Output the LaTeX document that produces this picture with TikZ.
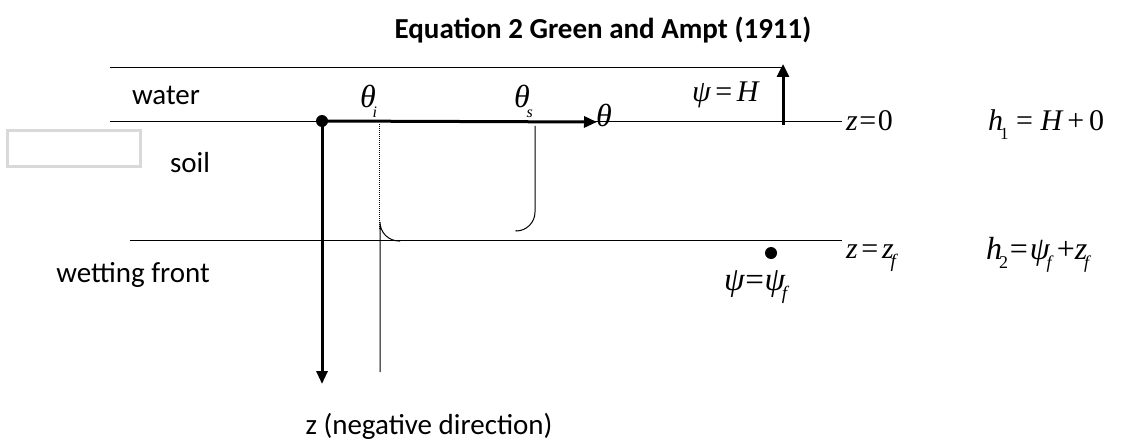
\documentclass[tikz,border=0pt]{standalone}
\usepackage{fontspec}
\setmainfont{Carlito}
\newfontfamily\tnr{Liberation Serif}
\newfontfamily\tnri{Liberation Serif Italic}
\usetikzlibrary{arrows.meta}
\newcommand\vi[1]{{\tnri #1}}
\newcommand\sbs[2]{\kern-0.1em\raisebox{-0.3em}{\fontsize{#1}{#1}\selectfont #2}}
\newcommand\eqsign{\kern0.06em=\kern0.06em}
\begin{document}
\begin{tikzpicture}[x=1pt,y=-1pt,
  thin line/.style={line width=1pt},
  thick axis/.style={line width=3pt,-{Triangle[length=13pt,width=11pt]}},
  lbl/.style={font=\fontsize{29}{32}\selectfont},
  mth/.style={font=\tnr\fontsize{32}{36}\selectfont, inner sep=0pt},
  mths/.style={font=\tnr\fontsize{30}{33}\selectfont, inner sep=0pt}]
\useasboundingbox (0,0) rectangle (1126,441);
% title
\node[font=\bfseries\fontsize{29}{32}\selectfont] (title) at (603,30) {Equation 2 Green and Ampt (1911)};
% layer lines
\coordinate (tl) at (110,68); \coordinate (tr) at (782,68);
\coordinate (wl) at (110,122); \coordinate (wr) at (842,122);
\coordinate (fl) at (130,240); \coordinate (fr) at (842,240);
\draw[thin line] (tl) -- (tr);
\draw[thin line] (wl) -- (wr);
\draw[thin line] (fl) -- (fr);
% labels
\node[lbl] (water) at (166,95) {water};
\node[lbl] (soil) at (190,163) {soil};
\node[lbl] (wf) at (133,275) {wetting front};
\node[lbl,anchor=base] (zneg) at (429,434) {z (negative direction)};
\draw[line width=3pt, draw=black!15] (7,130) rectangle (140,166);
% origin and axes
\node[circle,fill=black,inner sep=0pt,minimum size=12pt] (o) at (322,121) {};
\coordinate (thend) at (597,122);
\coordinate (zend) at (322,384);
\draw[thick axis] (o.center) -- (thend);
\draw[thick axis] (o.center) -- (zend);
\node[mth,anchor=base west] (th) at (596,127) {\vi{θ}};
\node[mth,anchor=base west] (thi) at (360,108) {\vi{θ}\sbs{16}{\vi{i}}};
\node[mth,anchor=base west] (ths) at (514,108) {\vi{θ}\sbs{16}{\vi{s}}};
% dotted and curves
\coordinate (di1) at (379,124); \coordinate (di2) at (379,230);
\draw[line width=1pt,densely dotted] (di1) -- (di2);
\coordinate (s1) at (535,126); \coordinate (s2) at (516,230);
\draw[thin line] (s1) -- (535,212) arc[start angle=0,end angle=90,radius=19] -- (s2);
\coordinate (c1) at (400,241); \coordinate (c2) at (380,372);
\draw[thin line] (c1) -- (399,241) arc[start angle=90,end angle=180,radius=19] -- (c2);
% psi = H arrow
\coordinate (pb) at (783,125); \coordinate (pt) at (783,64);
\draw[line width=3pt,-{Triangle[length=13pt,width=12pt]}] (pb) -- (pt);
\node[mths,anchor=base west] (psiH) at (692,102) {\vi{ψ}\kern0.15em=\kern0.15em\vi{H}};
\node[mths,anchor=base west] (z0) at (846,131) {\vi{z}\kern0.05em=\kern0.05em0};
\node[mths,anchor=base west] (h1) at (988,131) {\vi{h}\sbs{17}{1} = \vi{H}\,+\,0};
% front
\node[circle,fill=black,inner sep=0pt,minimum size=12pt] (fd) at (771,253) {};
\node[font=\tnr\fontsize{33}{36}\selectfont,inner sep=0pt,anchor=base west] (psif) at (724,290) {\vi{ψ}\kern0.02em=\kern0.02em\vi{ψ}\sbs{19}{\vi{f}}};
\node[mths,anchor=base west] (zzf) at (846,258) {\vi{z}\kern0.12em=\kern0.12em\vi{z}\sbs{19}{\vi{f}}};
\node[mth,anchor=base west] (h2) at (986,259) {\vi{h}\sbs{18}{2}\eqsign\vi{ψ}\sbs{18}{\vi{f}}\,+\vi{z}\sbs{18}{\vi{f}}};
\end{tikzpicture}
\end{document}
